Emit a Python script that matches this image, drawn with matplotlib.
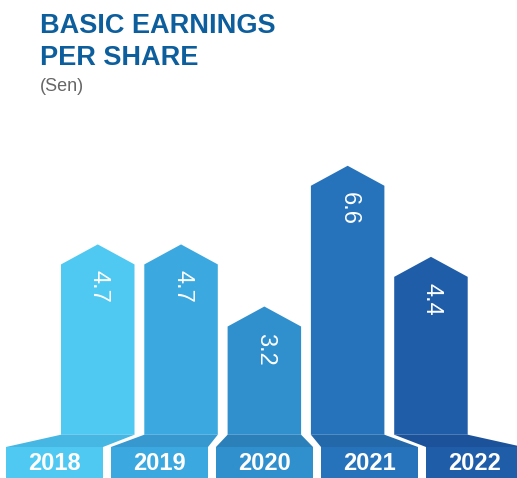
import matplotlib.pyplot as plt
from matplotlib.patches import Polygon, Rectangle

years = ['2018', '2019', '2020', '2021', '2022']
eps = [4.7, 4.7, 3.2, 6.6, 4.4]
col_colors = ['#4FC8F2', '#3BA8E0', '#308FCD', '#2673BC', '#1F5DA9']
strip_colors = ['#46B6E2', '#3698CE', '#2C80BA', '#2369AA', '#1B5299']

plt.rcParams['font.family'] = ['Liberation Sans', 'DejaVu Sans']

W, H = 517, 478
PX = 41.4          # pixels per sen
ZERO = 439.0       # pixel row of value 0


def yv(py):
    # pixel row -> value units
    return (ZERO - py) / PX


fig = plt.figure(figsize=(W / 100, H / 100), dpi=100)
ax = fig.add_axes([0, 0, 1, 1])
ax.set_xlim(0, W)
ax.set_ylim(yv(H), yv(0))
ax.axis('off')

col_left, col_step, col_w = 61, 83.3, 73.5
tip = 20 / PX
box_left, box_step, box_w = 6, 105, 97
col_bot, strip_bot = yv(434.7), yv(447)

for i, (yr, v) in enumerate(zip(years, eps)):
    x0 = col_left + col_step * i
    x1 = x0 + col_w
    xc = (x0 + x1) / 2
    # arrow column
    ax.add_patch(Polygon([(x0, col_bot), (x0, v - tip), (xc, v), (x1, v - tip),
                          (x1, col_bot)], closed=True, fc=col_colors[i], ec='none'))
    # sloped strip
    b0 = box_left + box_step * i
    b1 = b0 + box_w
    ax.add_patch(Polygon([(x0, col_bot), (x1, col_bot), (b1, strip_bot), (b0, strip_bot)],
                         closed=True, fc=strip_colors[i], ec='none'))
    # year box
    ax.add_patch(Rectangle((b0, yv(H) - 0.05), box_w, strip_bot - yv(H) + 0.05,
                           fc=col_colors[i], ec='none'))
    ax.text((b0 + b1) / 2, yv(463.5), yr, color='white', fontsize=17, fontweight='bold',
            ha='center', va='center')
    ax.text(xc + 1, v - 26 / PX, f'{v}', color='white', fontsize=17, rotation=270,
            ha='center', va='top')

fig.text(40 / W, 1 - 13 / H, 'BASIC EARNINGS', color='#0D5E9D', fontsize=19.5,
         fontweight='bold', ha='left', va='top')
fig.text(40 / W, 1 - 45 / H, 'PER SHARE', color='#0D5E9D', fontsize=19.5,
         fontweight='bold', ha='left', va='top')
fig.text(40 / W, 1 - 78 / H, '(Sen)', color='#666666', fontsize=13,
         ha='left', va='top')

fig.savefig('out.png', dpi=100)
